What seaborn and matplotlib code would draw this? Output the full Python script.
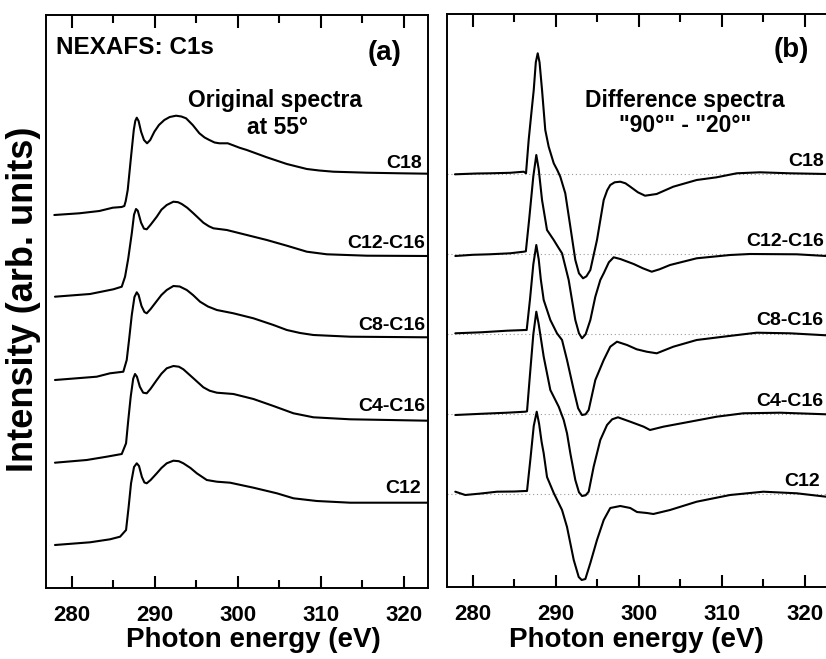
import numpy as np
import pandas as pd
import matplotlib
matplotlib.use("Agg")
import matplotlib.pyplot as plt
import seaborn as sns

# ---------------- data ----------------
sample_names = ["C18", "C12-C16", "C8-C16", "C4-C16", "C12"]

# Panel (a): original spectra at 55 deg (intensity relative to pre-edge baseline)
a_C18_E = [277.9, 280.91, 283.32, 284.94, 286.0, 286.33, 286.5, 286.74, 287.14, 287.47, 287.65, 287.83, 288.05,
           288.35, 288.7, 289.07, 289.45, 289.95, 290.5, 291.15, 291.8, 292.56, 293.2, 293.77, 294.57, 295.37,
           296.0, 296.57, 297.2, 297.78, 298.79, 299.5, 300.19, 301.08, 303.49, 305.9, 307.1, 308.31, 309.8,
           311.51, 315.54, 319.55, 322.89]
a_C18_I = [0.0, 0.017, 0.04, 0.073, 0.08, 0.09, 0.14, 0.25, 0.583, 0.85, 0.94, 0.973, 0.94,
           0.833, 0.75, 0.717, 0.75, 0.833, 0.90, 0.95, 0.98, 0.993, 0.985, 0.967, 0.90, 0.817,
           0.775, 0.75, 0.725, 0.717, 0.717, 0.695, 0.673, 0.65, 0.577, 0.51, 0.485, 0.46, 0.445,
           0.433, 0.423, 0.417, 0.413]

a_C1216_E = [277.98, 282.2, 285.01, 286.02, 286.42, 286.8, 287.23, 287.5, 287.74, 287.95, 288.35, 288.7,
             289.03, 289.5, 290.24, 290.8, 291.44, 292.24, 292.8, 293.25, 293.9, 294.65, 295.85, 296.5,
             297.06, 298.67, 301.08, 303.49, 305.9, 308.31, 310.72, 315.54, 322.89]
a_C1216_I = [0.0, 0.027, 0.074, 0.10, 0.20, 0.38, 0.634, 0.82, 0.877, 0.86, 0.74, 0.68,
             0.674, 0.72, 0.80, 0.87, 0.917, 0.95, 0.945, 0.927, 0.89, 0.834, 0.74, 0.705,
             0.684, 0.667, 0.617, 0.567, 0.51, 0.45, 0.424, 0.41, 0.407]

a_C816_E = [277.98, 283.01, 284.61, 286.21, 286.62, 286.9, 287.23, 287.55, 287.83, 288.05, 288.4, 288.75,
            289.03, 289.5, 290.24, 290.8, 291.44, 292.24, 293.0, 293.85, 294.6, 295.45, 296.4, 297.47,
            299.47, 301.88, 304.29, 305.9, 307.5, 309.1, 313.53, 322.89]
a_C816_I = [0.0, 0.033, 0.067, 0.083, 0.20, 0.40, 0.65, 0.83, 0.877, 0.85, 0.74, 0.68,
            0.667, 0.71, 0.79, 0.85, 0.90, 0.94, 0.935, 0.90, 0.85, 0.783, 0.735, 0.70,
            0.667, 0.617, 0.55, 0.50, 0.47, 0.45, 0.433, 0.427]

a_C416_E = [277.98, 281.8, 284.21, 286.02, 286.54, 286.8, 287.1, 287.4, 287.62, 287.85, 288.2, 288.6,
            289.03, 289.5, 290.24, 290.8, 291.44, 292.24, 292.9, 293.44, 294.65, 295.85, 296.6, 297.47,
            299.47, 301.88, 304.29, 306.7, 309.1, 313.53, 322.89]
a_C416_I = [0.0, 0.027, 0.06, 0.087, 0.194, 0.42, 0.66, 0.84, 0.887, 0.86, 0.76, 0.70,
            0.694, 0.74, 0.827, 0.89, 0.944, 0.967, 0.96, 0.934, 0.844, 0.754, 0.72, 0.70,
            0.687, 0.637, 0.567, 0.494, 0.454, 0.434, 0.42]

a_C12_E = [277.98, 282.2, 284.61, 285.82, 286.54, 286.85, 287.14, 287.5, 287.83, 288.1, 288.45, 288.75,
           289.03, 289.5, 290.24, 290.8, 291.44, 292.24, 292.9, 293.44, 294.3, 295.06, 296.26, 297.47,
           299.07, 301.88, 304.7, 306.7, 309.51, 313.53, 322.89]
a_C12_I = [0.0, 0.027, 0.057, 0.083, 0.15, 0.38, 0.617, 0.78, 0.817, 0.79, 0.68, 0.625,
           0.617, 0.65, 0.717, 0.77, 0.817, 0.843, 0.838, 0.817, 0.77, 0.717, 0.65, 0.633,
           0.623, 0.573, 0.517, 0.467, 0.44, 0.423, 0.423]

a_offsets = [3.73, 2.913, 2.08, 1.253, 0.43]

# Panel (b): difference spectra "90deg" - "20deg" (relative to zero line)
b_C18_E = [277.86, 280.5, 282.1, 284.5, 286.14, 286.42, 286.74, 287.05, 287.35, 287.6, 287.83, 288.05, 288.35,
           288.74, 289.15, 289.76, 290.2, 290.55, 291.15, 291.76, 292.36, 292.8, 293.29, 293.7, 294.17,
           294.97, 295.78, 296.2, 296.57, 297.1, 297.78, 298.4, 298.98, 299.9, 300.76, 302.16, 304.16,
           306.98, 309.39, 311.8, 314.61, 318.2, 322.6]
b_C18_I = [0.0, 0.008, 0.01, 0.015, 0.026, 0.01, 0.343, 0.6, 0.843, 1.12, 1.21, 1.12, 0.843,
           0.443, 0.276, 0.11, 0.04, -0.024, -0.19, -0.524, -0.857, -0.99, -1.04, -1.02, -0.957,
           -0.657, -0.257, -0.16, -0.107, -0.08, -0.074, -0.09, -0.124, -0.18, -0.214, -0.197, -0.124,
           -0.057, -0.03, 0.01, 0.02, 0.01, 0.003]

b_C1216_E = [277.9, 280.0, 282.0, 284.5, 286.14, 286.4, 286.8, 287.3, 287.66, 287.95, 288.35, 288.95,
             289.76, 290.3, 290.76, 291.36, 291.56, 292.36, 292.8, 293.17, 293.6, 294.17, 294.77, 295.37,
             295.78, 296.4, 296.98, 297.78, 299.39, 300.5, 301.56, 302.5, 303.77, 306.98, 311.0, 313.4,
             319.03, 322.6]
b_C1216_I = [-0.017, -0.005, 0.0, 0.01, 0.026, 0.03, 0.35, 0.78, 0.993, 0.85, 0.543, 0.243,
             0.143, 0.07, 0.01, -0.19, -0.257, -0.657, -0.79, -0.84, -0.80, -0.657, -0.424, -0.257,
             -0.19, -0.08, -0.03, -0.047, -0.097, -0.14, -0.174, -0.15, -0.107, -0.04, -0.007, 0.003,
             0.0, -0.017]

b_C816_E = [277.9, 281.0, 284.13, 286.33, 286.5, 286.9, 287.3, 287.66, 287.95, 288.2, 288.55, 289.35,
            290.15, 290.76, 291.36, 292.17, 292.7, 293.17, 293.6, 293.97, 294.77, 295.78, 296.57, 297.38,
            298.59, 299.76, 300.96, 302.17, 304.17, 306.98, 310.19, 314.21, 318.23, 322.57]
b_C816_I = [0.01, 0.02, 0.036, 0.043, 0.043, 0.35, 0.70, 0.893, 0.75, 0.55, 0.343, 0.143,
            0.01, -0.057, -0.257, -0.557, -0.74, -0.807, -0.80, -0.757, -0.457, -0.257, -0.124, -0.074,
            -0.107, -0.15, -0.174, -0.19, -0.124, -0.057, -0.024, 0.016, 0.01, -0.01]

b_C416_E = [277.9, 281.0, 284.13, 286.33, 286.54, 286.9, 287.3, 287.66, 287.95, 288.55, 289.35, 290.36,
            290.96, 291.36, 291.76, 292.36, 292.8, 293.17, 293.6, 293.97, 294.57, 295.37, 296.18, 296.8,
            297.5, 298.98, 300.6, 301.36, 302.96, 306.18, 309.39, 312.6, 317.02, 322.57]
b_C416_I = [-0.007, 0.005, 0.016, 0.026, 0.03, 0.40, 0.80, 1.026, 0.90, 0.576, 0.243, 0.076,
            -0.057, -0.19, -0.39, -0.657, -0.78, -0.817, -0.81, -0.774, -0.524, -0.257, -0.107, -0.05,
            -0.03, -0.074, -0.124, -0.157, -0.124, -0.074, -0.024, 0.01, 0.016, 0.0]

b_C12_E = [277.9, 279.1, 281.0, 282.92, 285.0, 286.33, 286.54, 286.95, 287.35, 287.71, 288.0, 288.3,
           288.55, 288.95, 289.76, 290.76, 291.36, 292.17, 292.77, 293.13, 293.57, 294.17, 294.97, 295.78,
           296.57, 297.78, 298.98, 299.79, 300.99, 301.76, 303.77, 306.98, 311.0, 315.01, 319.03, 322.57]
b_C12_I = [0.023, -0.01, 0.005, 0.023, 0.025, 0.03, 0.03, 0.35, 0.68, 0.823, 0.70, 0.52,
           0.407, 0.17, 0.01, -0.16, -0.33, -0.66, -0.83, -0.86, -0.85, -0.69, -0.46, -0.26,
           -0.14, -0.12, -0.14, -0.18, -0.19, -0.2, -0.16, -0.077, -0.01, 0.023, 0.007, -0.027]

b_offsets = [4.127, 3.327, 2.527, 1.727, 0.93]

x_ticks = [280, 290, 300, 310, 320]
x_minor_ticks = [285, 295, 305, 315]

# ---------------- build tables ----------------
a_E = [a_C18_E, a_C1216_E, a_C816_E, a_C416_E, a_C12_E]
a_I = [a_C18_I, a_C1216_I, a_C816_I, a_C416_I, a_C12_I]
b_E = [b_C18_E, b_C1216_E, b_C816_E, b_C416_E, b_C12_E]
b_I = [b_C18_I, b_C1216_I, b_C816_I, b_C416_I, b_C12_I]


def make_table(E_list, I_list, offsets):
    rows = []
    for name, E, I, off in zip(sample_names, E_list, I_list, offsets):
        for e, i in zip(E, I):
            rows.append({"energy": e, "intensity": i + off, "sample": name})
    return pd.DataFrame(rows)


df_a = make_table(a_E, a_I, a_offsets)
df_b = make_table(b_E, b_I, b_offsets)

# ---------------- style ----------------
sns.set_theme(style="ticks")
plt.rcParams.update({
    "font.family": ["Liberation Sans", "DejaVu Sans"],
    "font.weight": "bold",
    "axes.labelweight": "bold",
    "text.color": "black",
    "axes.labelcolor": "black",
    "axes.edgecolor": "black",
    "xtick.color": "black",
    "ytick.color": "black",
    "axes.axisbelow": False,
})

fig, (ax_a, ax_b) = plt.subplots(1, 2, figsize=(8.26, 6.59), dpi=100)
W, H = 826, 659
ax_a.set_position([46 / W, 1 - 588 / H, (428 - 46) / W, (588 - 15) / H])
ax_b.set_position([447 / W, 1 - 587 / H, (828.8 - 447) / W, (587 - 14) / H])

xlim = (276.9, 322.9)
ylim = (0.0, 5.73)

for ax, df in ((ax_a, df_a), (ax_b, df_b)):
    sns.lineplot(data=df, x="energy", y="intensity", units="sample", estimator=None,
                 sort=False, color="black", lw=1.5, ax=ax, legend=False)
    ax.set_xlim(*xlim)
    ax.set_ylim(*ylim)
    ax.set_xticks(x_ticks)
    ax.set_xticks(x_minor_ticks, minor=True)
    ax.set_yticks([])
    ax.set_axisbelow(False)
    for s in ax.spines.values():
        s.set_linewidth(1.4)
        s.set_color("black")
    ax.set_ylabel("")
    ax.set_xlabel("Photon energy (eV)", fontsize=20, fontweight="bold", color="black")
    ax.xaxis.label.set_va("center")
    ax.tick_params(axis="x", which="major", direction="in", length=9, width=1.5, color="black",
                   top=True, bottom=True, labelsize=16, pad=12, labelcolor="black")
    ax.tick_params(axis="x", which="minor", direction="in", length=5.5, width=1.5, color="black",
                   top=True, bottom=True)
    ax.tick_params(axis="y", which="both", left=False, right=False, labelleft=False)
    for t in ax.get_xticklabels():
        t.set_fontweight("bold")

ax_b.spines["right"].set_visible(False)

# zero lines for the difference spectra
for off in b_offsets:
    ax_b.axhline(off, color="#999999", lw=0.8, ls=(0, (1, 2.5)), zorder=0)

# axis labels placement
ax_a.xaxis.set_label_coords(0.542, (659 - 640 - (659 - 588)) / 573)
ax_b.xaxis.set_label_coords(0.495, (659 - 640 - (659 - 587)) / 573)
ax_a.set_ylabel("Intensity (arb. units)", fontsize=26, fontweight="bold", color="black")
ax_a.yaxis.label.set_va("center")
ax_a.yaxis.set_label_coords(-0.0576, 0.503)

# spectrum labels
a_label_y = [0.517, 0.537, 0.55, 0.56, 0.567]
a_label_x = [322.2, 322.6, 322.6, 322.6, 322.0]
for name, off, dy, lx in zip(sample_names, a_offsets, a_label_y, a_label_x):
    ax_a.text(lx, off + dy, name, ha="right", va="center", fontsize=14, fontweight="bold", color="black")

b_label_y = [0.126, 0.126, 0.14, 0.126, 0.123]
b_label_x = [322.3, 322.3, 322.3, 322.3, 321.8]
for name, off, dy, lx in zip(sample_names, b_offsets, b_label_y, b_label_x):
    ax_b.text(lx, off + dy, name, ha="right", va="center", fontsize=14, fontweight="bold", color="black")

# panel annotations
ax_a.text((56 - 46) / 382, (588 - 47.7) / 573, "NEXAFS: C1s", transform=ax_a.transAxes,
          ha="left", va="center", fontsize=17.5, fontweight="bold", color="black")
ax_a.text((384.5 - 46) / 382, (588 - 53) / 573, "(a)", transform=ax_a.transAxes,
          ha="center", va="center", fontsize=20, fontweight="bold", color="black")
ax_a.text((274.7 - 46) / 382, (588 - 100) / 573, "Original spectra", transform=ax_a.transAxes,
          ha="center", va="center", fontsize=16.5, fontweight="bold", color="black")
ax_a.text((277.5 - 46) / 382, (588 - 128) / 573, "at 55°", transform=ax_a.transAxes,
          ha="center", va="center", fontsize=16.5, fontweight="bold", color="black")

bw = 828.8 - 447
ax_b.text((791 - 447) / bw, (587 - 50) / 573, "(b)", transform=ax_b.transAxes,
          ha="center", va="center", fontsize=20, fontweight="bold", color="black")
ax_b.text((685 - 447) / bw, (587 - 100) / 573, "Difference spectra", transform=ax_b.transAxes,
          ha="center", va="center", fontsize=16.5, fontweight="bold", color="black")
ax_b.text((685 - 447) / bw, (587 - 125) / 573, '"90°" - "20°"', transform=ax_b.transAxes,
          ha="center", va="center", fontsize=16.5, fontweight="bold", color="black")

fig.savefig("out.png", dpi=100)
